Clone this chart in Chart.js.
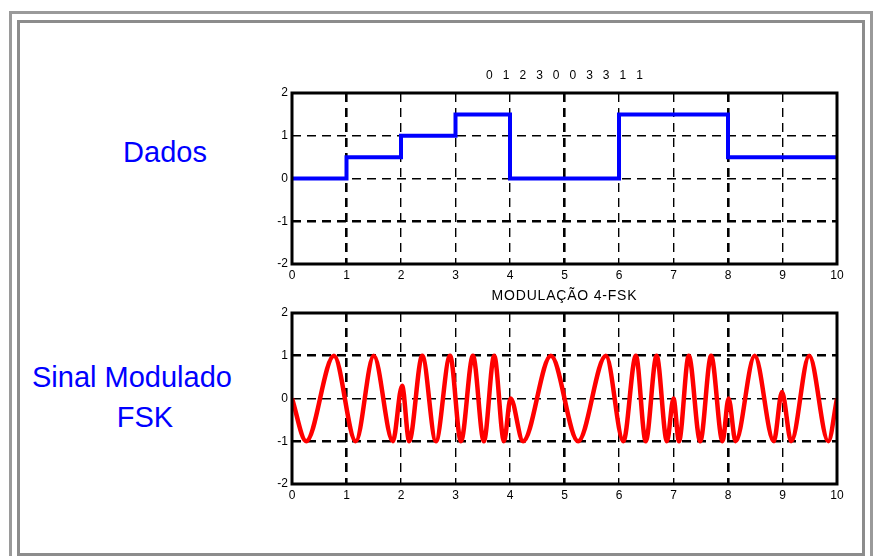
<!DOCTYPE html>
<html>
<head>
<meta charset="utf-8">
<script src="https://cdn.jsdelivr.net/npm/chart.js"></script>
<style>
  body { margin: 0; background: #fff; width: 876px; height: 556px; position: relative; overflow: hidden; font-family: "Liberation Sans", Arial, sans-serif; }
  .frame1 { position: absolute; left: 9px; top: 11px; width: 858px; height: 560px; border: 3px solid #9a9a9a; }
  .frame2 { position: absolute; left: 17px; top: 20px; width: 842px; height: 530px; border: 3px solid #8c8c8c; }
  .lbl { position: absolute; color: #0000ff; font-size: 29px; line-height: 29px; text-align: center; white-space: nowrap; }
  canvas { position: absolute; left: 0; }
</style>
</head>
<body>
<div class="frame1"></div>
<div class="frame2"></div>
<div class="lbl" style="left:105px; top:138px; width:120px;">Dados</div>
<div class="lbl" style="left:12px; top:363px; width:240px;">Sinal Modulado</div>
<div class="lbl" style="left:85px; top:403px; width:120px;">FSK</div>

<canvas id="dadosChart" width="876" height="290" style="top:0px"></canvas>
<canvas id="fskChart" width="876" height="276" style="top:280px"></canvas>

<script>
// simbolos transmitidos (titulo do grafico de cima)
var simbolos = [0, 1, 2, 3, 0, 0, 3, 3, 1, 1];

// nivel de cada simbolo no grafico "Dados" (t = 0..10)
var dadosT = [0, 1, 2, 3, 4, 5, 6, 7, 8, 9, 10];
var dadosNivel = [0, 0.5, 1, 1.5, 0, 0, 1.5, 1.5, 0.5, 0.5, 0.5];

// sinal FSK: picos, vales e pontos de troca
var fskT = [0, 0.26, 0.77, 1.17, 1.50, 1.85, 2.02, 2.15, 2.39, 2.64, 2.90, 3.10, 3.32, 3.52, 3.71, 3.89,
            4.01, 4.24, 4.75, 5.25, 5.76, 6.08, 6.31, 6.49, 6.69, 6.88, 7.0, 7.1, 7.28, 7.49, 7.69, 7.9,
            8.01, 8.14, 8.49, 8.84, 8.99, 9.16, 9.49, 9.84, 10.0];
var fskY = [0, -1, 1, -1, 1, -1, 0.3, -1, 1, -1, 1, -1, 1, -1, 1, -1,
            0, -1, 1, -1, 1, -1, 1, -1, 1, -1, 0, -1, 1, -1, 1, -1,
            0, -1, 1, -1, 0.15, -1, 1, -1, 0];

var xTicks = [0, 1, 2, 3, 4, 5, 6, 7, 8, 9, 10];
var yTicks = [-2, -1, 0, 1, 2];

var tickFont = { family: "'Liberation Sans', Arial, sans-serif", size: 12 };

function pontos(xs, ys) {
  return xs.map(function (x, i) { return { x: x, y: ys[i] }; });
}

// moldura preta + titulo em cima da area do grafico
function molduraPlugin(titulo, tamanho, espaco) {
  return {
    id: 'moldura',
    afterDraw: function (chart) {
      var ctx = chart.ctx;
      var a = chart.chartArea;
      ctx.save();
      ctx.strokeStyle = '#000';
      ctx.lineWidth = 3;
      ctx.strokeRect(a.left, a.top, a.right - a.left, a.bottom - a.top);
      ctx.fillStyle = '#000';
      ctx.font = tamanho + "px 'Liberation Sans', Arial, sans-serif";
      ctx.letterSpacing = espaco + 'px';
      ctx.textAlign = 'center';
      ctx.textBaseline = 'middle';
      ctx.fillText(titulo, (a.left + a.right) / 2, a.top - 17);
      ctx.restore();
    }
  };
}

function opcoes(padTop, padBottom, grossosX, grossosY) {
  return {
    responsive: false,
    animation: false,
    layout: { padding: { left: 270, right: 39, top: padTop, bottom: padBottom } },
    plugins: { legend: { display: false }, tooltip: { enabled: false } },
    elements: { point: { radius: 0 } },
    scales: {
      x: {
        type: 'linear', min: 0, max: 10,
        afterBuildTicks: function (s) { s.ticks = xTicks.map(function (v) { return { value: v }; }); },
        afterFit: function (s) { s.height = 20; },
        ticks: { color: '#000', font: tickFont, padding: 4, maxRotation: 0 },
        grid: {
          drawTicks: false, color: '#000',
          lineWidth: function (c) { return grossosX.indexOf(c.tick && c.tick.value) >= 0 ? 2.6 : 1.4; }
        },
        border: { display: false, dash: [9, 6] }
      },
      y: {
        min: -2, max: 2,
        afterBuildTicks: function (s) { s.ticks = yTicks.map(function (v) { return { value: v }; }); },
        afterFit: function (s) { s.width = 22; },
        ticks: { color: '#000', font: tickFont, padding: 4 },
        grid: {
          drawTicks: false, color: '#000',
          lineWidth: function (c) { return grossosY.indexOf(c.tick && c.tick.value) >= 0 ? 2.6 : 1.4; }
        },
        border: { display: false, dash: [9, 6] }
      }
    }
  };
}

// grafico dos dados (degraus)
var ctx1 = document.getElementById('dadosChart').getContext('2d');
var dadosChart = new Chart(ctx1, {
  type: 'line',
  data: {
    datasets: [{
      data: pontos(dadosT, dadosNivel),
      borderColor: '#0000ff',
      borderWidth: 4,
      stepped: 'before',
      fill: false
    }]
  },
  options: opcoes(93, 6, [1, 5, 8], [-1]),
  plugins: [molduraPlugin(simbolos.join('   '), 12, 0)]
});

// grafico do sinal modulado
var ctx2 = document.getElementById('fskChart').getContext('2d');
var fskChart = new Chart(ctx2, {
  type: 'line',
  data: {
    datasets: [{
      data: pontos(fskT, fskY),
      borderColor: '#ff0000',
      borderWidth: 4.5,
      cubicInterpolationMode: 'monotone',
      fill: false
    }]
  },
  options: opcoes(33, 52, [1, 5, 8], [1, -1]),
  plugins: [molduraPlugin('MODULAÇÃO 4-FSK', 14, 0.8)]
});
</script>
</body>
</html>
